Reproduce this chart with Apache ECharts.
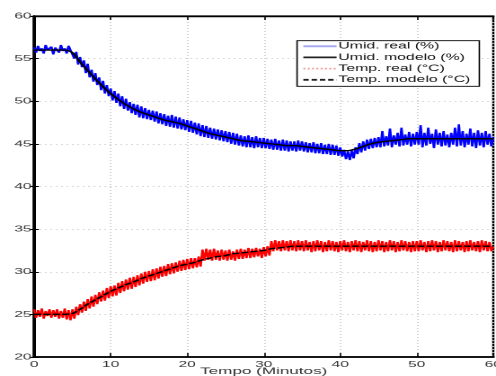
<!DOCTYPE html>
<html>
<head>
<meta charset="utf-8">
<script src="https://cdn.jsdelivr.net/npm/echarts@6/dist/echarts.min.js"></script>
<style>
  html, body { margin: 0; padding: 0; background: #fff; overflow: hidden; }
  /* The figure is laid out narrow and widened horizontally, like an exported plot stretched to fit */
  #chart { width: 276px; height: 376px; transform: scaleX(1.797); transform-origin: 0 0; }
</style>
</head>
<body>
<div id="chart"></div>
<script>
// Sampling steps (minutes) of the measured and modelled series
const realStep = 0.25;
const modelStep = 1;

// Measured relative humidity (%), one sample every 0.25 min from 0 to 60 min
const umidReal = [
  56.3,55.7,56.5,55.9,56.2,55.6,56.6,56.0,55.8,56.4,55.5,56.3,56.1,55.7,56.6,55.9,56.2,55.6,56.5,56.0,
  56.1,55.0,55.8,54.3,55.2,54.0,54.8,53.3,54.4,52.8,53.7,52.3,53.3,51.9,52.8,51.3,52.4,50.9,51.9,50.6,
  51.5,50.1,51.2,49.8,50.9,49.4,50.6,49.1,50.3,48.9,49.9,48.6,49.7,48.4,49.6,48.1,49.4,48.0,49.2,47.9,
  49.0,47.8,48.9,47.6,48.8,47.4,48.6,47.3,48.5,47.1,48.3,47.0,48.4,46.9,48.2,46.8,48.1,46.7,47.9,46.6,
  47.8,46.4,47.7,46.3,47.5,46.1,47.4,45.9,47.2,45.8,47.1,45.7,46.9,45.6,46.8,45.5,46.7,45.4,46.6,45.3,
  46.5,45.2,46.4,45.0,46.3,44.9,46.2,44.8,46.0,44.7,45.9,44.6,46.0,44.6,45.8,44.5,45.9,44.6,45.7,44.5,
  45.7,44.5,45.6,44.4,45.5,44.3,45.6,44.3,45.4,44.2,45.5,44.2,45.4,44.1,45.3,44.2,45.3,44.1,45.4,44.2,
  45.3,44.1,45.2,44.0,45.1,44.0,45.2,43.9,45.0,43.9,45.1,43.8,44.9,43.8,45.0,43.7,44.9,43.7,44.8,43.6,
  44.6,43.5,44.3,43.2,44.1,43.1,44.2,43.3,44.6,43.8,45.1,44.0,45.3,44.2,45.5,44.4,45.6,44.5,45.7,44.6,
  45.8,44.6,46.5,44.7,45.9,44.8,46.8,44.6,46.0,44.9,46.3,44.7,46.9,44.8,46.1,44.9,46.4,44.7,46.2,44.9,
  46.4,44.9,47.2,44.6,46.3,44.8,46.9,45.0,46.2,44.5,46.7,44.9,46.3,44.7,46.5,44.8,46.1,44.6,46.3,44.9,
  46.9,44.7,47.3,44.8,46.5,44.6,46.2,44.9,46.8,44.7,46.3,44.5,46.6,44.8,46.3,44.6,46.5,44.9,46.2,44.7,
  45.8
];

// Modelled relative humidity (%), one value per minute from 0 to 60 min
const umidModelo = [
  56.0,56.0,56.0,56.0,56.0,55.7,54.6,53.6,52.6,51.7,
  50.9,50.2,49.6,49.1,48.7,48.4,48.1,47.8,47.6,47.4,
  47.1,46.8,46.5,46.2,46.0,45.8,45.6,45.4,45.3,45.2,
  45.1,45.0,44.9,44.8,44.8,44.7,44.6,44.5,44.4,44.3,
  44.2,44.2,44.4,44.7,45.0,45.2,45.3,45.4,45.5,45.6,
  45.6,45.6,45.6,45.6,45.6,45.6,45.6,45.6,45.6,45.6,
  45.6
];

// Measured temperature (°C), one sample every 0.25 min from 0 to 60 min
const tempReal = [
  25.6,24.6,25.5,24.7,25.7,24.5,25.4,24.8,25.6,24.6,25.5,24.7,25.6,24.5,25.4,24.6,25.7,24.4,25.5,24.3,
  25.6,24.5,25.9,24.9,26.2,25.2,26.5,25.4,26.8,25.7,27.1,25.9,27.3,26.2,27.6,26.5,27.8,26.6,28.1,26.9,
  28.3,27.1,28.4,27.2,28.7,27.5,28.9,27.7,29.1,27.9,29.3,28.0,29.4,28.2,29.6,28.4,29.8,28.6,30.0,28.8,
  30.1,28.9,30.3,29.0,30.4,29.2,30.6,29.4,30.7,29.5,30.9,29.7,31.0,29.8,31.1,30.0,31.3,30.1,31.4,30.2,
  31.5,30.3,31.6,30.4,31.6,30.5,31.8,30.6,32.6,31.3,32.7,31.4,32.6,31.3,32.7,31.4,32.5,31.3,32.6,31.4,
  32.5,31.3,32.6,31.4,32.4,31.3,32.6,31.5,32.7,31.5,32.6,31.6,32.8,31.6,32.7,31.7,32.8,31.8,32.7,31.6,
  32.9,31.8,33.0,31.9,33.6,32.4,33.7,32.5,33.6,32.4,33.7,32.5,33.6,32.4,33.7,32.5,33.6,32.4,33.7,32.5,
  33.6,32.4,33.7,32.5,33.5,32.3,33.6,32.4,33.7,32.5,33.6,32.3,33.5,32.4,33.7,32.5,33.6,32.4,33.5,32.3,
  33.6,32.5,33.7,32.4,33.5,32.3,33.6,32.5,33.7,32.4,33.6,32.3,33.5,32.5,33.7,32.4,33.6,32.3,33.5,32.4,
  33.7,32.5,33.6,32.3,33.5,32.4,33.7,32.5,33.6,32.3,33.5,32.4,33.7,32.5,33.6,32.4,33.5,32.3,33.6,32.4,
  33.6,32.4,33.7,32.5,33.5,32.3,33.6,32.4,33.7,32.5,33.6,32.3,33.5,32.4,33.7,32.5,33.6,32.4,33.5,32.3,
  33.7,32.4,33.6,32.5,33.5,32.3,33.6,32.4,33.7,32.5,33.5,32.4,33.6,32.3,33.7,32.5,33.6,32.4,33.5,32.4,
  33.0
];

// Modelled temperature (°C), one value per minute from 0 to 60 min
const tempModelo = [
  25.0,25.0,25.0,25.0,25.0,25.1,25.6,26.2,26.7,27.2,
  27.7,28.1,28.5,28.8,29.2,29.5,29.8,30.1,30.4,30.7,
  30.9,31.1,31.4,31.6,31.8,31.9,32.1,32.2,32.3,32.4,
  32.5,32.7,32.8,32.9,33.0,33.0,33.0,33.0,33.0,33.0,
  33.0,33.0,33.0,33.0,33.0,33.0,33.0,33.0,33.0,33.0,
  33.0,33.0,33.0,33.0,33.0,33.0,33.0,33.0,33.0,33.0,
  33.0
];

// Axis ranges
const xRange = [0, 60];
const yRange = [20, 60];

const seriesNames = ['Umid. real (%)', 'Umid. modelo (%)', 'Temp. real (°C)', 'Temp. modelo (°C)'];

function pairs(values, step) {
  return values.map((v, i) => [i * step, v]);
}

const font = 'Liberation Sans';
const labelColor = '#333';
const hidden = { color: 'rgba(0,0,0,0)', borderColor: 'rgba(0,0,0,0)', borderWidth: 0, opacity: 0 };

const chart = echarts.init(document.getElementById('chart'), null, {
  renderer: 'canvas', width: 276, height: 376, devicePixelRatio: 2
});

const gridLine = { show: true, lineStyle: { color: '#cdcdc4', type: [1, 2], width: 0.8 } };

chart.setOption({
  animation: false,
  backgroundColor: '#fff',
  grid: {
    left: 19, right: 1.5, top: 16, bottom: 19,
    outerBoundsMode: 'none', containLabel: false,
    show: true, borderColor: '#000', borderWidth: 1.2
  },
  legend: {
    orient: 'vertical',
    left: 165.3,
    top: 40.7,
    backgroundColor: '#fff',
    borderColor: '#000',
    borderWidth: 0.8,
    borderRadius: 0,
    padding: [1, 5, 2, 2.5],
    itemGap: 2.2,
    itemWidth: 18.5,
    itemHeight: 10,
    textStyle: { fontFamily: font, fontSize: 8.8, color: '#111', padding: [0, 0, 0, -4] },
    data: [
      { name: seriesNames[0], itemStyle: hidden, lineStyle: { color: '#a9abf2', width: 2, type: 'solid' } },
      { name: seriesNames[1], itemStyle: hidden, lineStyle: { color: '#222', width: 1.8, type: 'solid' } },
      { name: seriesNames[2], itemStyle: hidden, lineStyle: { color: '#f0a8a8', width: 1.8, type: [1.2, 1.2] } },
      { name: seriesNames[3], itemStyle: hidden, lineStyle: { color: '#222', width: 1.8, type: [3, 1.6] } }
    ]
  },
  xAxis: [
    {
      type: 'value', min: xRange[0], max: xRange[1], interval: 10,
      name: 'Tempo (Minutos)', nameLocation: 'middle', nameGap: 9.5, nameMoveOverlap: false,
      nameTextStyle: { fontFamily: font, fontSize: 9.5, color: labelColor },
      axisLine: { show: true, onZero: false, lineStyle: { color: '#000', width: 1.8 } },
      axisTick: { show: true, inside: true, length: 4, lineStyle: { color: '#000', width: 0.8 } },
      axisLabel: { fontFamily: font, fontSize: 8.6, color: labelColor, margin: 3, showMaxLabel: true },
      splitLine: gridLine
    },
    {
      type: 'value', position: 'top', min: xRange[0], max: xRange[1], interval: 10,
      axisLine: { show: true, lineStyle: { color: '#000', width: 1.4 } },
      axisTick: { show: true, inside: true, length: 4, lineStyle: { color: '#000', width: 0.8 } },
      axisLabel: { show: false },
      splitLine: { show: false }
    }
  ],
  yAxis: [
    {
      type: 'value', min: yRange[0], max: yRange[1], interval: 5,
      axisLine: { show: true, onZero: false, lineStyle: { color: '#000', width: 1.8 } },
      axisTick: { show: true, inside: true, length: 2.6, lineStyle: { color: '#000', width: 1 } },
      axisLabel: { fontFamily: font, fontSize: 8.6, color: labelColor, margin: 1.5 },
      splitLine: gridLine
    },
    {
      type: 'value', position: 'right', min: yRange[0], max: yRange[1], interval: 5,
      axisLine: { show: true, lineStyle: { color: '#000', width: 1 } },
      axisTick: { show: true, inside: true, length: 2.6, lineStyle: { color: '#000', width: 1 } },
      axisLabel: { show: false },
      splitLine: { show: false }
    }
  ],
  series: [
    {
      name: seriesNames[0], type: 'line', data: pairs(umidReal, realStep),
      symbol: 'none', lineStyle: { color: '#0000ff', width: 1.3 }, itemStyle: { color: '#0000ff' }, z: 2
    },
    {
      name: seriesNames[2], type: 'line', data: pairs(tempReal, realStep),
      symbol: 'none', lineStyle: { color: '#ff0000', width: 1.3 }, itemStyle: { color: '#ff0000' }, z: 2
    },
    {
      name: seriesNames[1], type: 'line', data: pairs(umidModelo, modelStep), smooth: 0.3,
      symbol: 'none', lineStyle: { color: '#000', width: 1.4 }, itemStyle: { color: '#000' }, z: 3
    },
    {
      name: seriesNames[3], type: 'line', data: pairs(tempModelo, modelStep), smooth: 0.3,
      symbol: 'none', lineStyle: { color: '#000', width: 1.4, type: [4, 1.2] }, itemStyle: { color: '#000' }, z: 3
    }
  ]
});
</script>
</body>
</html>
